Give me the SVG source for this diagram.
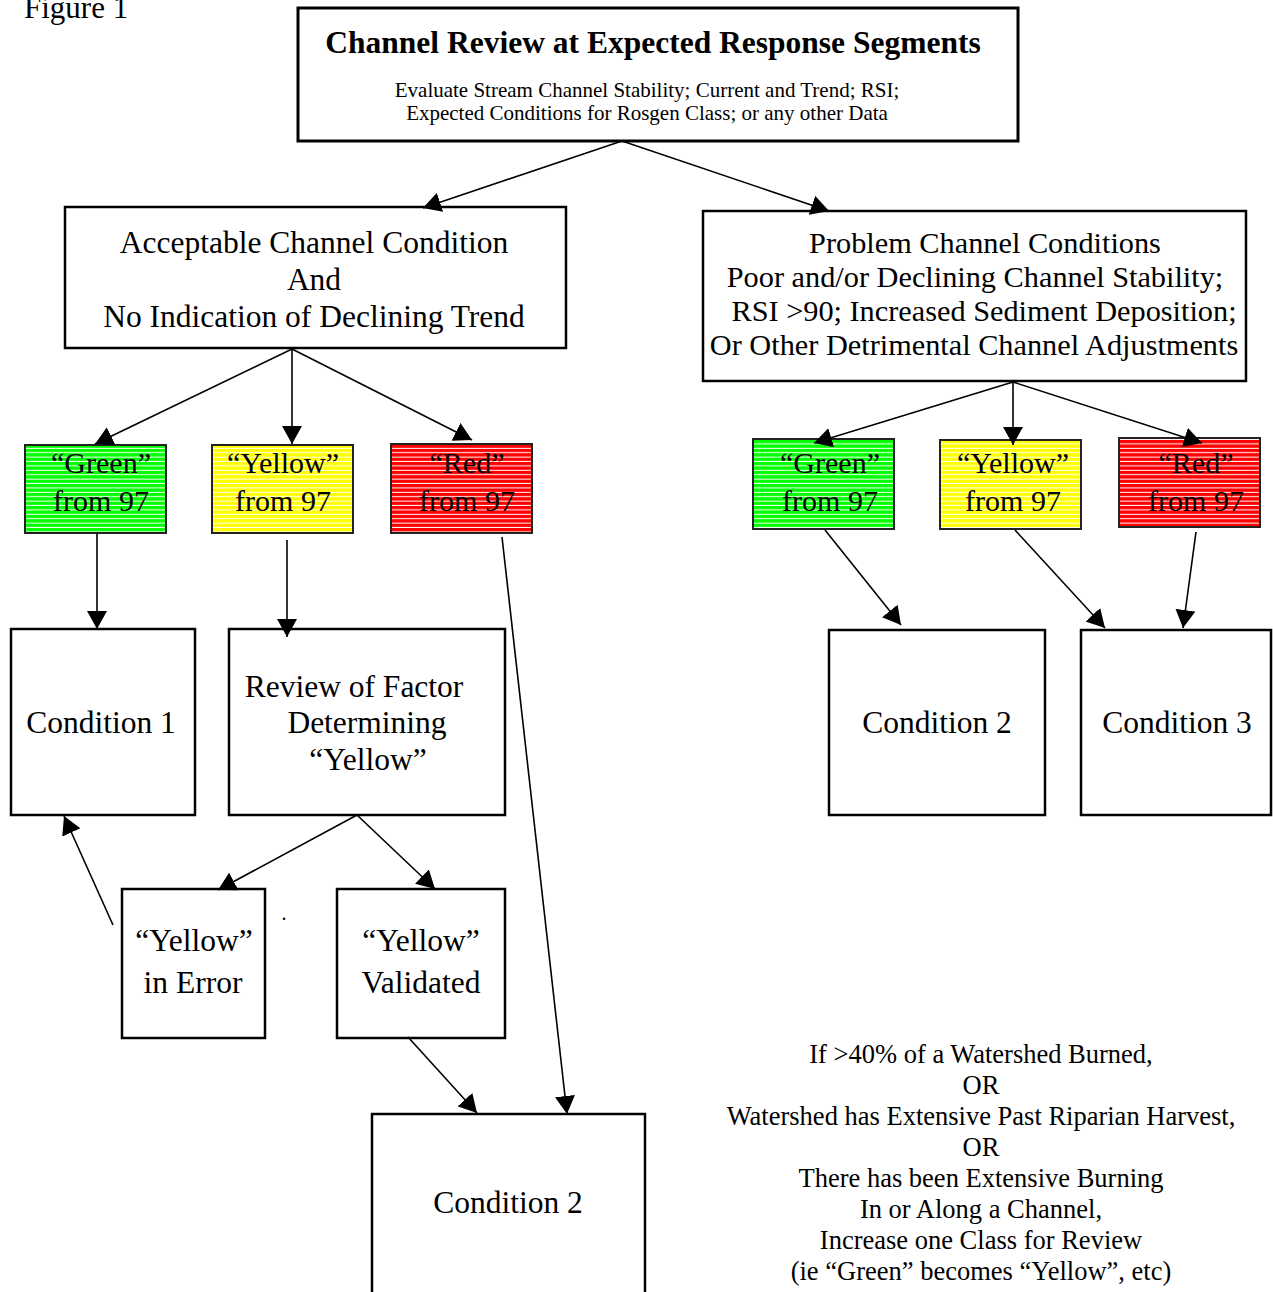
<svg xmlns="http://www.w3.org/2000/svg" width="1273" height="1292" viewBox="0 0 1273 1292">
<style>
text{font-family:"Liberation Serif","Times New Roman",serif;fill:#000}
.box{fill:#fff;stroke:#000;stroke-width:2.5}
.cbox{stroke:#222;stroke-width:2}
.c{text-anchor:middle}
.f30{font-size:30px}
.f31{font-size:31.5px}
.f29{font-size:30.3px}
.f26{font-size:26.5px}
.conn line{stroke:#000;stroke-width:1.6;marker-end:url(#ah)}
</style>
<defs>
<marker id="ah" markerUnits="userSpaceOnUse" markerWidth="18" markerHeight="20" refX="18" refY="10" orient="auto" viewBox="0 0 18 20"><path d="M0,0 L18,10 L0,20 z" fill="#000"/></marker>
<pattern id="pg" width="10" height="4.4" patternUnits="userSpaceOnUse"><rect width="10" height="4.4" fill="#00ff00"/><rect y="3.4" width="10" height="1" fill="#fff"/></pattern>
<pattern id="py" width="10" height="4.4" patternUnits="userSpaceOnUse"><rect width="10" height="4.4" fill="#ffff00"/><rect y="3.4" width="10" height="1" fill="#fff"/></pattern>
<pattern id="pr" width="10" height="4.4" patternUnits="userSpaceOnUse"><rect width="10" height="4.4" fill="#ff0000"/><rect y="3.4" width="10" height="1" fill="#fff"/></pattern>
</defs>
<rect width="1273" height="1292" fill="#fff"/>
<text x="24" y="18" style="font-size:31px">Figure 1</text>

<g id="top">
<rect class="box" x="298" y="8" width="720" height="133" style="stroke-width:3"/>
<text x="653" y="53" class="c" style="font-size:31.5px;font-weight:bold">Channel Review at Expected Response Segments</text>
<text x="647" y="97" class="c" style="font-size:21px">Evaluate Stream Channel Stability; Current and Trend; RSI;</text>
<text x="647" y="120" class="c" style="font-size:21px">Expected Conditions for Rosgen Class; or any other Data</text>
</g>

<g id="acceptable">
<rect class="box" x="65" y="207" width="501" height="141"/>
<text x="314" y="253" class="c f31">Acceptable Channel Condition</text>
<text x="314" y="290" class="c f31">And</text>
<text x="314" y="327" class="c f31">No Indication of Declining Trend</text>
</g>

<g id="problem">
<rect class="box" x="703" y="211" width="543" height="170"/>
<text x="985" y="253" class="c f29">Problem Channel Conditions</text>
<text x="975" y="287" class="c f29">Poor and/or Declining Channel Stability;</text>
<text x="984" y="321" class="c f29">RSI &gt;90; Increased Sediment Deposition;</text>
<text x="974" y="355" class="c f29">Or Other Detrimental Channel Adjustments</text>
</g>

<g id="green-left">
<rect class="cbox" x="25" y="445" width="141" height="88" fill="url(#pg)"/>
<text x="101" y="473" class="c f30">“Green”</text>
<text x="101" y="511" class="c f30">from 97</text>
</g>
<g id="yellow-left">
<rect class="cbox" x="212" y="445" width="141" height="88" fill="url(#py)"/>
<text x="283" y="473" class="c f30">“Yellow”</text>
<text x="283" y="511" class="c f30">from 97</text>
</g>
<g id="red-left">
<rect class="cbox" x="391" y="444" width="141" height="89" fill="url(#pr)"/>
<text x="467" y="473" class="c f30">“Red”</text>
<text x="467" y="511" class="c f30">from 97</text>
</g>

<g id="green-right">
<rect class="cbox" x="753" y="439" width="141" height="90" fill="url(#pg)"/>
<text x="830" y="473" class="c f30">“Green”</text>
<text x="830" y="511" class="c f30">from 97</text>
</g>
<g id="yellow-right">
<rect class="cbox" x="940" y="440" width="141" height="89" fill="url(#py)"/>
<text x="1013" y="473" class="c f30">“Yellow”</text>
<text x="1013" y="511" class="c f30">from 97</text>
</g>
<g id="red-right">
<rect class="cbox" x="1119" y="438" width="141" height="89" fill="url(#pr)"/>
<text x="1196" y="473" class="c f30">“Red”</text>
<text x="1196" y="511" class="c f30">from 97</text>
</g>

<g id="condition1">
<rect class="box" x="11" y="629" width="184" height="186"/>
<text x="101" y="733" class="c f31">Condition 1</text>
</g>
<g id="review">
<rect class="box" x="229" y="629" width="276" height="186"/>
<text x="354" y="697" class="c f31">Review of Factor</text>
<text x="367" y="733" class="c f31">Determining</text>
<text x="368" y="770" class="c f31">“Yellow”</text>
</g>
<g id="condition2-right">
<rect class="box" x="829" y="630" width="216" height="185"/>
<text x="937" y="733" class="c f31">Condition 2</text>
</g>
<g id="condition3">
<rect class="box" x="1081" y="630" width="190" height="185"/>
<text x="1177" y="733" class="c f31">Condition 3</text>
</g>

<g id="yellow-error">
<rect class="box" x="122" y="889" width="143" height="149"/>
<text x="194" y="951" class="c f31">“Yellow”</text>
<text x="193" y="993" class="c f31">in Error</text>
</g>
<text x="284" y="920" class="c" style="font-size:20px">.</text>
<g id="yellow-validated">
<rect class="box" x="337" y="889" width="168" height="149"/>
<text x="421" y="951" class="c f31">“Yellow”</text>
<text x="421" y="993" class="c f31">Validated</text>
</g>

<g id="condition2-bottom">
<rect class="box" x="372" y="1114" width="273" height="190"/>
<text x="508" y="1213" class="c f31">Condition 2</text>
</g>

<g id="note">
<text x="981" y="1063" class="c f26">If &gt;40% of a Watershed Burned,</text>
<text x="981" y="1094" class="c f26">OR</text>
<text x="981" y="1125" class="c f26">Watershed has Extensive Past Riparian Harvest,</text>
<text x="981" y="1156" class="c f26">OR</text>
<text x="981" y="1187" class="c f26">There has been Extensive Burning</text>
<text x="981" y="1218" class="c f26">In or Along a Channel,</text>
<text x="981" y="1249" class="c f26">Increase one Class for Review</text>
<text x="981" y="1280" class="c f26">(ie “Green” becomes “Yellow”, etc)</text>
</g>

<g id="connectors" class="conn">
<line x1="622" y1="141" x2="423" y2="208"/>
<line x1="622" y1="141" x2="829" y2="211"/>
<line x1="292" y1="349" x2="95" y2="444"/>
<line x1="292" y1="349" x2="292" y2="444"/>
<line x1="292" y1="349" x2="472" y2="440"/>
<line x1="1013" y1="382" x2="814" y2="443"/>
<line x1="1013" y1="382" x2="1013" y2="445"/>
<line x1="1013" y1="382" x2="1202" y2="443"/>
<line x1="97" y1="533" x2="97" y2="629"/>
<line x1="287" y1="540" x2="287" y2="637"/>
<line x1="502" y1="537" x2="567" y2="1114"/>
<line x1="357" y1="815" x2="218" y2="890"/>
<line x1="357" y1="815" x2="435" y2="889"/>
<line x1="113" y1="925" x2="64" y2="816"/>
<line x1="408" y1="1037" x2="477" y2="1113"/>
<line x1="825" y1="530" x2="901" y2="625"/>
<line x1="1015" y1="530" x2="1105" y2="628"/>
<line x1="1196" y1="532" x2="1183" y2="628"/>
</g>
</svg>
